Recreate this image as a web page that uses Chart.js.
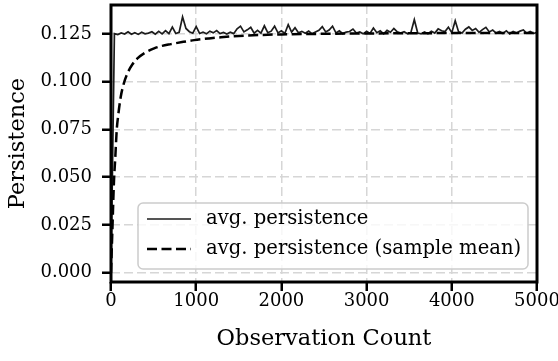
<!DOCTYPE html>
<html>
<head>
<meta charset="utf-8">
<script src="https://cdn.jsdelivr.net/npm/chart.js@4/dist/chart.umd.min.js"></script>
<style>
  html, body { margin: 0; padding: 0; background: #fff; }
  #wrap { width: 558px; height: 361px; }
</style>
</head>
<body>
<div id="wrap"><canvas id="chart" width="558" height="361"></canvas></div>
<script>
// avg. persistence, logged every 40 observations (0 .. 5000)
const logStep = 40;
const avgPersistence = [
  0.0000, 0.1252, 0.1247, 0.1256, 0.1250, 0.1262, 0.1249, 0.1257, 0.1248, 0.1259,
  0.1251, 0.1255, 0.1262, 0.1249, 0.1264, 0.1251, 0.1268, 0.1252, 0.1286, 0.1253,
  0.1259, 0.1340, 0.1279, 0.1262, 0.1254, 0.1289, 0.1253, 0.1260, 0.1251, 0.1265,
  0.1256, 0.1268, 0.1252, 0.1258, 0.1250, 0.1259, 0.1252, 0.1277, 0.1291, 0.1261,
  0.1272, 0.1285, 0.1254, 0.1269, 0.1255, 0.1293, 0.1257, 0.1265, 0.1291, 0.1256,
  0.1267, 0.1253, 0.1299, 0.1260, 0.1283, 0.1257, 0.1264, 0.1254, 0.1265, 0.1251,
  0.1261, 0.1269, 0.1289, 0.1261, 0.1271, 0.1291, 0.1256, 0.1267, 0.1252, 0.1260,
  0.1263, 0.1276, 0.1255, 0.1261, 0.1251, 0.1264, 0.1253, 0.1281, 0.1257, 0.1267,
  0.1251, 0.1269, 0.1259, 0.1279, 0.1261, 0.1255, 0.1262, 0.1251, 0.1258, 0.1325,
  0.1255, 0.1251, 0.1261, 0.1252, 0.1265, 0.1255, 0.1277, 0.1267, 0.1263, 0.1286,
  0.1257, 0.1319, 0.1261, 0.1255, 0.1275, 0.1287, 0.1269, 0.1279, 0.1259, 0.1273,
  0.1285, 0.1261, 0.1271, 0.1255, 0.1263, 0.1253, 0.1267, 0.1251, 0.1263, 0.1255,
  0.1265, 0.1271, 0.1254, 0.1263, 0.1253, 0.1259
];

// sample mean curve
const meanObs = [0, 8, 16, 35, 50, 67, 85, 114, 150, 192, 250, 310, 400, 506, 600,
  702, 850, 976, 1150, 1290, 1500, 1750, 2000, 2500, 3000, 3500, 4000, 4500, 5000];
const meanPersistence = [0.0000, 0.0110, 0.0220, 0.0480, 0.0600, 0.0746, 0.0825, 0.0920,
  0.0990, 0.1043, 0.1090, 0.1122, 0.1152, 0.1175, 0.1188, 0.1197, 0.1209, 0.1218,
  0.1227, 0.1233, 0.1240, 0.1245, 0.1248, 0.1251, 0.1253, 0.1254, 0.1255, 0.1255, 0.1255];

const xTicks = [0, 1000, 2000, 3000, 4000, 5000];
const yTicks = [0, 0.025, 0.05, 0.075, 0.1, 0.125];
const seriesLabels = ["avg. persistence", "avg. persistence (sample mean)"];

const FONT = "'DejaVu Serif', serif";

const avgPoints = avgPersistence.map((v, i) => ({ x: i * logStep, y: v }));
const meanPoints = meanObs.map((x, i) => ({ x: x, y: meanPersistence[i] }));

// black frame on all four sides, like matplotlib spines
const framePlugin = {
  id: "frame",
  afterDatasetsDraw(chart) {
    const { ctx, chartArea: a } = chart;
    ctx.save();
    ctx.strokeStyle = "#000";
    ctx.lineWidth = 3;
    ctx.strokeRect(a.left, a.top, a.right - a.left, a.bottom - a.top);
    ctx.restore();
  },
};

// legend box inside the plot, lower right
const legendPlugin = {
  id: "boxLegend",
  afterDraw(chart) {
    const ctx = chart.ctx;
    const bx = 138, by = 203, bw = 390, bh = 66, r = 5;
    ctx.save();
    ctx.beginPath();
    ctx.roundRect(bx, by, bw, bh, r);
    ctx.fillStyle = "rgba(255,255,255,0.8)";
    ctx.fill();
    ctx.strokeStyle = "#cccccc";
    ctx.lineWidth = 1.5;
    ctx.stroke();

    const rows = [
      { y: 219, ds: chart.data.datasets[1] },
      { y: 249, ds: chart.data.datasets[0] },
    ];
    rows.forEach((row) => {
      ctx.beginPath();
      ctx.setLineDash(row.ds.borderDash || []);
      ctx.strokeStyle = row.ds.borderColor;
      ctx.lineWidth = row.ds.borderWidth;
      ctx.moveTo(147, row.y);
      ctx.lineTo(191, row.y);
      ctx.stroke();
      ctx.setLineDash([]);
      ctx.fillStyle = "#000";
      ctx.font = "19.6px " + FONT;
      ctx.textBaseline = "middle";
      ctx.textAlign = "left";
      ctx.fillText(row.ds.label, 206, row.y);
    });
    ctx.restore();
  },
};

const gridOpts = {
  color: "#d6d6d6",
  lineWidth: 1.5,
  tickColor: "#000",
  tickWidth: 2.5,
  tickLength: 9,
  tickBorderDash: [],
};

new Chart(document.getElementById("chart"), {
  type: "line",
  data: {
    datasets: [
      {
        label: seriesLabels[1],
        data: meanPoints,
        borderColor: "#000",
        borderWidth: 2.5,
        borderDash: [10, 4.5],
        pointRadius: 0,
        cubicInterpolationMode: "monotone",
      },
      {
        label: seriesLabels[0],
        data: avgPoints,
        borderColor: "#1c1c1c",
        borderWidth: 1.7,
        pointRadius: 0,
        tension: 0,
      },
    ],
  },
  options: {
    responsive: false,
    animation: false,
    devicePixelRatio: 1,
    layout: { padding: { top: 5, right: 21, left: 0, bottom: 0 } },
    plugins: { legend: { display: false }, tooltip: { enabled: false } },
    scales: {
      x: {
        type: "linear",
        min: 0,
        max: 5000,
        afterBuildTicks: (s) => { s.ticks = xTicks.map((v) => ({ value: v })); },
        afterFit: (s) => {
          s.height = 79;
          s.paddingLeft = 0;
          s.paddingRight = 0;
        },
        ticks: {
          color: "#000",
          font: { family: FONT, size: 18 },
          padding: 0,
          maxRotation: 0,
          callback: (v) => String(v),
        },
        grid: gridOpts,
        border: { display: false, dash: [9, 4] },
        title: {
          display: true,
          text: "Observation Count",
          color: "#000",
          font: { family: FONT, size: 22.5 },
          padding: { top: 4, bottom: 8 },
        },
      },
      y: {
        type: "linear",
        min: -0.0049,
        max: 0.1402,
        afterBuildTicks: (s) => { s.ticks = yTicks.map((v) => ({ value: v })); },
        afterFit: (s) => {
          s.width = 111;
          s.paddingTop = 0;
          s.paddingBottom = 0;
        },
        ticks: {
          color: "#000",
          font: { family: FONT, size: 18 },
          padding: 10,
          callback: (v) => Number(v).toFixed(3),
        },
        grid: gridOpts,
        border: { display: false, dash: [9, 4] },
        title: {
          display: true,
          text: "Persistence",
          color: "#000",
          font: { family: FONT, size: 22.5 },
          padding: { top: 5, bottom: 0 },
        },
      },
    },
  },
  plugins: [framePlugin, legendPlugin],
});
</script>
</body>
</html>
